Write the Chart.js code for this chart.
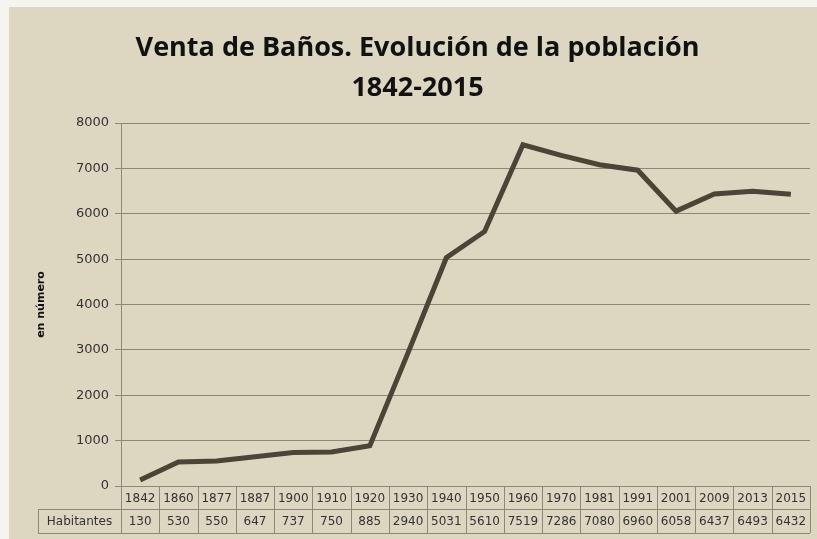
<!DOCTYPE html>
<html>
<head>
<meta charset="utf-8">
<script src="https://cdn.jsdelivr.net/npm/chart.js@4.4.1/dist/chart.umd.min.js"></script>
<style>
  html, body { margin: 0; padding: 0; background: #f6f4ee; }
  #wrap { position: relative; width: 817px; height: 539px; }
</style>
</head>
<body>
<div id="wrap"><canvas id="chart" width="817" height="539"></canvas></div>
<script>
/* ===== Datos ===== */
const YEARS = ["1842", "1860", "1877", "1887", "1900", "1910", "1920", "1930", "1940",
               "1950", "1960", "1970", "1981", "1991", "2001", "2009", "2013", "2015"];
const HABITANTES = [130, 530, 550, 647, 737, 750, 885, 2940, 5031,
                    5610, 7519, 7286, 7080, 6960, 6058, 6437, 6493, 6432];
const SERIES_NAME = "Habitantes";
const TITLE_LINES = ["Venta de Baños. Evolución de la población", "1842-2015"];
const Y_TITLE = "en número";

const BG = "#ddd7c1";
const GRID = "#8c887a";
const LINE = "#4a4536";
const TXT = "#333333";

/* ===== Fondo y tabla de datos ===== */
const backgroundPlugin = {
  id: "bg",
  beforeDraw(chart) {
    const c = chart.ctx;
    c.save();
    c.fillStyle = BG;
    c.fillRect(9, 7, chart.width - 9, chart.height - 7);
    c.restore();
  }
};

const tablePlugin = {
  id: "dataTable",
  afterDraw(chart) {
    const c = chart.ctx;
    const x = chart.scales.x;
    const area = chart.chartArea;
    const n = YEARS.length;
    const colW = (area.right - area.left) / n;
    const r1 = area.bottom, r2 = r1 + 23, r3 = r2 + 24;
    const labelLeft = 38;

    c.save();
    c.strokeStyle = GRID;
    c.lineWidth = 1;
    c.beginPath();
    c.moveTo(area.left, r1 + 0.5); c.lineTo(area.right, r1 + 0.5);
    c.moveTo(labelLeft, r2 + 0.5); c.lineTo(area.right, r2 + 0.5);
    c.moveTo(labelLeft, r3 + 0.5); c.lineTo(area.right, r3 + 0.5);
    c.moveTo(labelLeft + 0.5, r2); c.lineTo(labelLeft + 0.5, r3);
    for (let i = 0; i <= n; i++) {
      const px = Math.round(area.left + i * colW) + 0.5;
      c.moveTo(px, r1); c.lineTo(px, r3);
    }
    c.stroke();

    c.fillStyle = TXT;
    c.font = "12px 'DejaVu Sans'";
    c.textAlign = "center";
    c.textBaseline = "middle";
    YEARS.forEach((yr, i) => {
      const cx = x.getPixelForValue(i);
      c.fillText(yr, cx, (r1 + r2) / 2 + 1);
      c.fillText(String(HABITANTES[i]), cx, (r2 + r3) / 2 + 1);
    });
    c.fillText(SERIES_NAME, (labelLeft + area.left) / 2, (r2 + r3) / 2 + 1);
    c.restore();
  }
};

/* ===== Gráfico ===== */
new Chart(document.getElementById("chart"), {
  type: "line",
  data: {
    labels: YEARS,
    datasets: [{
      label: SERIES_NAME,
      data: HABITANTES,
      borderColor: LINE,
      borderWidth: 5,
      pointRadius: 0,
      tension: 0,
      fill: false,
    }],
  },
  options: {
    responsive: false,
    animation: false,
    layout: { padding: { left: 25, right: 7, top: 0, bottom: 0 } },
    plugins: {
      legend: { display: false },
      tooltip: { enabled: false },
      title: {
        display: true,
        text: TITLE_LINES,
        color: "#111111",
        font: { family: "'Open Sans'", size: 27, weight: "bold", lineHeight: 1.5 },
        padding: { top: 28, bottom: 14 },
      },
    },
    scales: {
      x: {
        offset: true,
        grid: { display: false },
        border: { display: false },
        ticks: { display: false },
        afterFit: s => { s.height = 53; },
      },
      y: {
        min: 0,
        max: 8000,
        ticks: {
          stepSize: 1000,
          color: TXT,
          font: { family: "'DejaVu Sans'", size: 13 },
          padding: 6,
          callback: v => String(v),
        },
        grid: { color: GRID, lineWidth: 1, tickLength: 6 },
        border: { display: true, color: GRID },
        title: {
          display: true,
          text: Y_TITLE,
          color: "#111111",
          font: { family: "'DejaVu Sans'", size: 11, weight: "bold" },
          padding: { top: 10, bottom: 0 },
        },
        afterFit: s => { s.width = 96; },
      },
    },
  },
  plugins: [backgroundPlugin, tablePlugin],
});
</script>
</body>
</html>
